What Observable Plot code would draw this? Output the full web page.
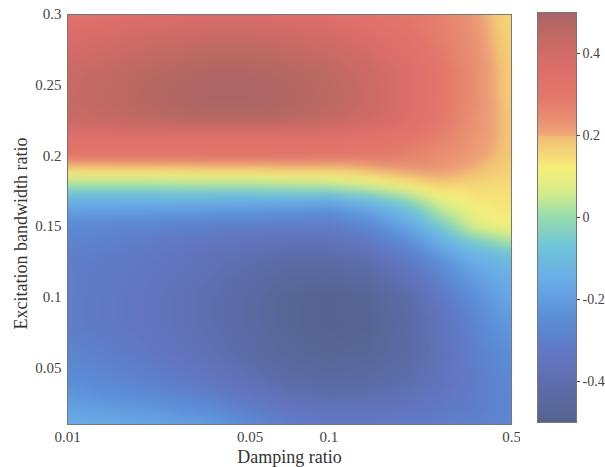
<!DOCTYPE html>
<html><head><meta charset="utf-8">
<script src="https://cdn.jsdelivr.net/npm/d3@7"></script>
<script src="https://cdn.jsdelivr.net/npm/@observablehq/plot@0.6"></script>
<style>
body{margin:0;background:#fff;}
#wrap{position:relative;width:605px;height:467px;font-family:"Liberation Serif",serif;}
#main{position:absolute;left:0;top:0;}
#bar{position:absolute;left:520px;top:0;}
</style></head><body><div id="wrap"><div id="main"></div><div id="bar"></div></div>
<script>
// Damping ratio (x, log scale)
const dampingRatio = [0.01, 0.02, 0.035, 0.05, 0.07, 0.1, 0.14, 0.2, 0.27, 0.35, 0.42, 0.5];
// Excitation bandwidth ratio (y)
const bandwidthRatio = [0.3, 0.28, 0.26, 0.24, 0.225, 0.215, 0.2, 0.19, 0.18, 0.17, 0.16, 0.15, 0.14, 0.13, 0.12, 0.1, 0.08, 0.06, 0.04, 0.02, 0.01];
// Values, one row per bandwidth ratio, one column per damping ratio
const response = [
  [0.34, 0.36, 0.37, 0.37, 0.36, 0.35, 0.33, 0.30, 0.27, 0.23, 0.19, 0.15],
  [0.38, 0.42, 0.44, 0.44, 0.43, 0.41, 0.38, 0.34, 0.28, 0.24, 0.20, 0.16],
  [0.42, 0.46, 0.48, 0.48, 0.47, 0.45, 0.42, 0.37, 0.30, 0.25, 0.21, 0.17],
  [0.43, 0.47, 0.49, 0.49, 0.48, 0.46, 0.43, 0.37, 0.30, 0.25, 0.21, 0.17],
  [0.42, 0.45, 0.47, 0.47, 0.46, 0.44, 0.41, 0.36, 0.29, 0.24, 0.21, 0.18],
  [0.35, 0.36, 0.36, 0.36, 0.36, 0.35, 0.34, 0.31, 0.27, 0.23, 0.21, 0.18],
  [0.30, 0.31, 0.31, 0.31, 0.31, 0.30, 0.29, 0.27, 0.24, 0.22, 0.20, 0.18],
  [0.15, 0.15, 0.16, 0.16, 0.17, 0.17, 0.19, 0.22, 0.22, 0.20, 0.18, 0.16],
  [0.02, 0.02, 0.03, 0.03, 0.04, 0.05, 0.08, 0.13, 0.17, 0.16, 0.15, 0.15],
  [-0.12, -0.12, -0.12, -0.12, -0.12, -0.13, -0.08, 0.00, 0.10, 0.13, 0.14, 0.14],
  [-0.20, -0.21, -0.22, -0.23, -0.24, -0.25, -0.20, -0.10, 0.03, 0.10, 0.12, 0.13],
  [-0.26, -0.28, -0.30, -0.31, -0.31, -0.31, -0.27, -0.18, -0.05, 0.06, 0.10, 0.11],
  [-0.28, -0.31, -0.34, -0.36, -0.37, -0.37, -0.33, -0.24, -0.14, -0.05, -0.01, 0.03],
  [-0.30, -0.33, -0.37, -0.39, -0.41, -0.41, -0.38, -0.30, -0.21, -0.13, -0.11, -0.08],
  [-0.31, -0.34, -0.38, -0.41, -0.44, -0.45, -0.42, -0.35, -0.26, -0.18, -0.15, -0.13],
  [-0.31, -0.35, -0.40, -0.44, -0.48, -0.50, -0.48, -0.42, -0.33, -0.25, -0.20, -0.17],
  [-0.31, -0.35, -0.40, -0.44, -0.48, -0.50, -0.49, -0.44, -0.36, -0.29, -0.24, -0.21],
  [-0.28, -0.33, -0.38, -0.42, -0.46, -0.48, -0.47, -0.43, -0.37, -0.31, -0.27, -0.24],
  [-0.24, -0.29, -0.34, -0.38, -0.42, -0.44, -0.43, -0.40, -0.36, -0.32, -0.29, -0.27],
  [-0.18, -0.21, -0.25, -0.30, -0.34, -0.36, -0.36, -0.35, -0.33, -0.31, -0.29, -0.28],
  [-0.15, -0.17, -0.20, -0.25, -0.30, -0.32, -0.32, -0.31, -0.30, -0.29, -0.28, -0.27]
];
const xTicks = [0.01, 0.05, 0.1, 0.5];
const yTicks = [0.05, 0.1, 0.15, 0.2, 0.25, 0.3];
const colorTicks = [-0.4, -0.2, 0, 0.2, 0.4];
const colorStops = [-0.5, -0.42, -0.35, -0.25, -0.15, -0.07, 0.0, 0.06, 0.12, 0.199, 0.201, 0.25, 0.3, 0.36, 0.42, 0.47, 0.5];
const colorRange = ["#56638f", "#5c6ca8", "#6274bf", "#5b8cd6", "#6aaee8", "#70c4d8", "#96dcae", "#d4ec8a", "#f6ee7a", "#f2bc74", "#eea67a", "#e88a70", "#e2766a", "#de6e6a", "#cc6a66", "#b66862", "#a8646a"];

const grid = bandwidthRatio.flatMap((y, i) => dampingRatio.map((x, j) => ({x, y, z: response[i][j]})));
const color = {type: "linear", domain: colorStops, range: colorRange, clamp: true};
const fmt = d => String(d);
const font = '"Liberation Serif", "Times New Roman", serif';

const main = Plot.plot({
  width: 520, height: 467,
  marginLeft: 67, marginRight: 9, marginTop: 14, marginBottom: 43,
  style: {fontFamily: font, fontSize: "15px", color: "#444", background: "white"},
  x: {type: "log", domain: [0.01, 0.5], axis: null},
  y: {type: "linear", domain: [0.01, 0.3], axis: null},
  color,
  marks: [
    Plot.raster(grid, {x: "x", y: "y", fill: "z", x1: 0.01, x2: 0.5, y1: 0.01, y2: 0.3, interpolate: "barycentric", blur: 4}),
    Plot.frame({stroke: "#777", strokeWidth: 1}),
    Plot.text(xTicks, {x: d => d, text: fmt, frameAnchor: "bottom", lineAnchor: "top", dy: 7, fontSize: 15, fill: "#444"}),
    Plot.axisY(yTicks, {tickSize: 0, tickPadding: 6, label: null, tickFormat: fmt, fontSize: 15}),
    Plot.text(["Damping ratio"], {text: d => d, frameAnchor: "bottom", textAnchor: "middle", lineAnchor: "middle", dy: 33, fontSize: 18, fill: "#333"}),
    Plot.text(["Excitation bandwidth ratio"], {text: d => d, frameAnchor: "left", textAnchor: "middle", lineAnchor: "middle", rotate: -90, dx: -46, dy: 14, fontSize: 18, fill: "#333"})
  ]
});
document.getElementById("main").append(main);

const bar = Plot.plot({
  width: 85, height: 467,
  marginLeft: 17, marginRight: 29, marginTop: 12, marginBottom: 45,
  style: {fontFamily: font, fontSize: "14px", color: "#444", background: "white"},
  x: {domain: [0, 1], axis: null},
  y: {domain: [-0.5, 0.5], axis: null},
  color,
  marks: [
    Plot.raster({fill: (x, y) => y, x1: 0, x2: 1, y1: -0.5, y2: 0.5}),
    Plot.frame({stroke: "#777", strokeWidth: 1}),
    Plot.axisY(colorTicks, {anchor: "right", tickSize: 3, tickPadding: 3, label: null, tickFormat: fmt, fontSize: 14})
  ]
});
document.getElementById("bar").append(bar);
</script>
</body></html>
